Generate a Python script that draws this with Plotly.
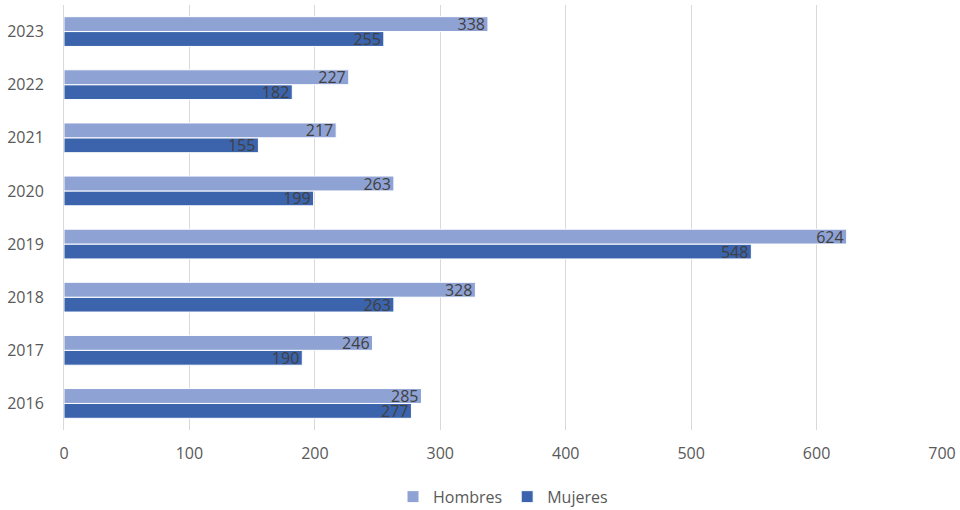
import plotly.graph_objects as go

years = ["2016", "2017", "2018", "2019", "2020", "2021", "2022", "2023"]
hombres = [285, 246, 328, 624, 263, 217, 227, 338]
mujeres = [277, 190, 263, 548, 199, 155, 182, 255]
x_ticks = [0, 100, 200, 300, 400, 500, 600, 700]

fig = go.Figure()
fig.add_trace(go.Bar(
    y=years, x=mujeres, name="Mujeres", orientation="h",
    marker=dict(color="#3B64AD", line=dict(color="white", width=1)),
    text=mujeres, textposition="inside", insidetextanchor="end",
    constraintext="none",
    textfont=dict(color="#404040", size=16, family="Open Sans"), legendrank=2,
    cliponaxis=False,
))
fig.add_trace(go.Bar(
    y=years, x=hombres, name="Hombres", orientation="h",
    marker=dict(color="#8FA2D4", line=dict(color="white", width=1)),
    text=hombres, textposition="inside", insidetextanchor="end",
    constraintext="none",
    textfont=dict(color="#404040", size=16, family="Open Sans"), legendrank=1,
    cliponaxis=False,
))

fig.update_layout(
    width=960, height=510,
    barmode="group", bargap=0.44, bargroupgap=0,
    plot_bgcolor="white", paper_bgcolor="white",
    margin=dict(l=64, r=18, t=5, b=80),
    font=dict(family="Open Sans", color="#595959", size=16),
    xaxis=dict(range=[0, 700], tickvals=x_ticks, showgrid=True,
               gridcolor="#D9D9D9", gridwidth=1, zeroline=False,
               showline=False, ticks="", automargin=False,
               ticklabelstandoff=12,
               tickfont=dict(size=16, color="#595959")),
    yaxis=dict(type="category", categoryorder="array", categoryarray=years,
               showgrid=False, ticks="", ticklabelstandoff=16, automargin=False,
               showline=True, linecolor="#D9D9D9", linewidth=1,
               tickfont=dict(size=16, color="#595959")),
    legend=dict(orientation="h", x=0.5, xanchor="center",
                y=0.026, yref="container", yanchor="middle",
                font=dict(size=16, color="#595959"), itemwidth=30),
)

fig.write_html("out.html", config={"displayModeBar": False},
               post_script="document.body.style.margin='0';document.body.style.overflow='hidden';")
